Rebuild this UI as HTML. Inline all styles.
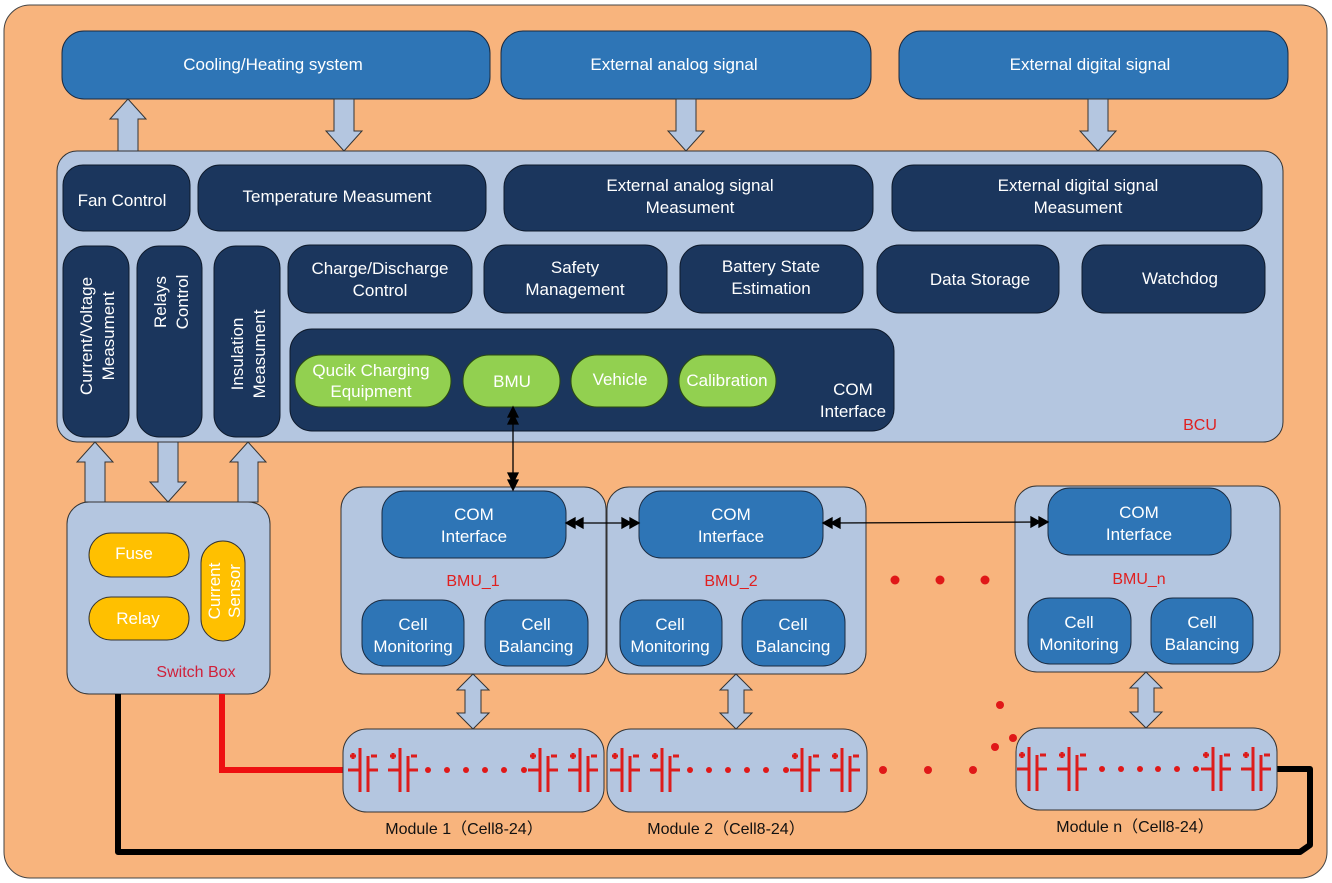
<!DOCTYPE html>
<html><head><meta charset="utf-8"><style>
html,body{margin:0;padding:0;background:#fff;}
svg{display:block;font-family:"Liberation Sans",Arial,sans-serif;}
.t{fill:#fff;font-size:17px;text-anchor:middle;}
.bl{fill:#2e75b6;stroke:#1a2a40;stroke-width:1;}
.nv{fill:#1b365d;stroke:#0e1a2c;stroke-width:1;}
.lb{fill:#b4c6e0;stroke:#333;stroke-width:1;}
.gr{fill:#92d050;stroke:#2a4a10;stroke-width:1;}
.yl{fill:#ffc000;stroke:#333;stroke-width:1;}
.ar{fill:#b4c6e0;stroke:#333;stroke-width:1;}
.rd{fill:#e02020;font-size:16px;text-anchor:middle;}
.bk{fill:#111;font-size:16px;text-anchor:middle;}
</style></head><body>
<svg width="1332" height="883" viewBox="0 0 1332 883">
<defs>
<g id="cell" stroke="#dd1c1c" stroke-width="3" fill="none">
<line x1="-12" y1="0" x2="0" y2="0"/>
<line x1="0" y1="-22" x2="0" y2="22"/>
<line x1="8" y1="-14" x2="8" y2="22"/>
<line x1="8" y1="0" x2="18" y2="0"/>
<line x1="-10" y1="-14" x2="-4" y2="-14"/><line x1="-7" y1="-17" x2="-7" y2="-11"/>
<line x1="11" y1="-14" x2="17" y2="-14"/>
</g>
</defs>
<rect x="4" y="5" width="1323" height="873" rx="26" fill="#f8b47d" stroke="#444" stroke-width="1"/>

<rect class="bl" x="62" y="31" width="428" height="68" rx="22"/>
<text class="t" x="273" y="70">Cooling/Heating system</text>
<rect class="bl" x="501" y="31" width="370" height="68" rx="22"/>
<text class="t" x="674" y="70">External analog signal</text>
<rect class="bl" x="899" y="31" width="389" height="68" rx="22"/>
<text class="t" x="1090" y="70">External digital signal</text>

<polygon class="ar" points="118,151 118,119 110,119 128,99 146,119 138,119 138,151"/>
<polygon class="ar" points="334,99 354,99 354,131 362,131 344,151 326,131 334,131"/>
<polygon class="ar" points="676,99 696,99 696,131 704,131 686,151 668,131 676,131"/>
<polygon class="ar" points="1088,99 1108,99 1108,131 1116,131 1098,151 1080,131 1088,131"/>

<rect class="lb" x="57" y="151" width="1226" height="291" rx="20"/>
<rect class="nv" x="63" y="165" width="127" height="66" rx="20"/>
<text class="t" x="122" y="206">Fan Control</text>
<rect class="nv" x="198" y="165" width="288" height="66" rx="22"/>
<text class="t" x="337" y="202">Temperature Measument</text>
<rect class="nv" x="504" y="165" width="369" height="66" rx="22"/>
<text class="t" x="690" y="191">External analog signal</text>
<text class="t" x="690" y="213">Measument</text>
<rect class="nv" x="892" y="165" width="370" height="66" rx="22"/>
<text class="t" x="1078" y="191">External digital signal</text>
<text class="t" x="1078" y="213">Measument</text>

<rect class="nv" x="288" y="245" width="184" height="68" rx="22"/>
<text class="t" x="380" y="274">Charge/Discharge</text>
<text class="t" x="380" y="296">Control</text>
<rect class="nv" x="484" y="245" width="183" height="68" rx="22"/>
<text class="t" x="575" y="273">Safety</text>
<text class="t" x="575" y="295">Management</text>
<rect class="nv" x="680" y="245" width="183" height="68" rx="22"/>
<text class="t" x="771" y="272">Battery State</text>
<text class="t" x="771" y="294">Estimation</text>
<rect class="nv" x="877" y="245" width="182" height="68" rx="22"/>
<text class="t" x="980" y="285">Data Storage</text>
<rect class="nv" x="1082" y="245" width="183" height="68" rx="22"/>
<text class="t" x="1180" y="284">Watchdog</text>

<rect class="nv" x="63" y="246" width="66" height="191" rx="22"/>
<text class="t" transform="translate(92,336) rotate(-90)">Current/Voltage</text>
<text class="t" transform="translate(114,336) rotate(-90)">Measument</text>
<rect class="nv" x="137" y="246" width="65" height="191" rx="22"/>
<text class="t" transform="translate(166,302) rotate(-90)">Relays</text>
<text class="t" transform="translate(188,302) rotate(-90)">Control</text>
<rect class="nv" x="214" y="246" width="66" height="191" rx="22"/>
<text class="t" transform="translate(243,354) rotate(-90)">Insulation</text>
<text class="t" transform="translate(265,354) rotate(-90)">Measument</text>

<rect class="nv" x="290" y="329" width="604" height="102" rx="22"/>
<rect class="gr" x="295" y="355" width="156" height="52" rx="26"/>
<text class="t" x="371" y="376">Qucik Charging</text>
<text class="t" x="371" y="397">Equipment</text>
<rect class="gr" x="463" y="355" width="97" height="52" rx="26"/>
<text class="t" x="512" y="387">BMU</text>
<rect class="gr" x="571" y="355" width="97" height="52" rx="26"/>
<text class="t" x="620" y="385">Vehicle</text>
<rect class="gr" x="679" y="355" width="97" height="52" rx="26"/>
<text class="t" x="727" y="386">Calibration</text>
<text class="t" x="853" y="395">COM</text>
<text class="t" x="853" y="417">Interface</text>
<text class="rd" x="1200" y="430">BCU</text>

<polygon class="ar" points="85,502 85,462 77,462 95,442 113,462 105,462 105,502"/>
<polygon class="ar" points="158,442 178,442 178,482 186,482 168,502 150,482 158,482"/>
<polygon class="ar" points="238,502 238,462 230,462 248,442 266,462 258,462 258,502"/>

<rect class="lb" x="67" y="502" width="203" height="192" rx="22"/>
<rect class="yl" x="89" y="533" width="100" height="44" rx="22"/>
<text class="t" x="134" y="559">Fuse</text>
<rect class="yl" x="89" y="597" width="100" height="43" rx="22"/>
<text class="t" x="138" y="624">Relay</text>
<rect class="yl" x="201" y="541" width="44" height="100" rx="22"/>
<text class="t" transform="translate(220,591) rotate(-90)">Current</text>
<text class="t" transform="translate(240,591) rotate(-90)">Sensor</text>
<text class="rd" x="196" y="677" style="fill:#d0203a">Switch Box</text>

<polyline points="222,694 222,770 343,770" fill="none" stroke="#ee1010" stroke-width="6"/>
<polyline points="118,694 118,852 1300,852 1310,845 1310,769 1277,769" fill="none" stroke="#000" stroke-width="6" stroke-linejoin="round"/>

<rect class="lb" x="341" y="487" width="265" height="187" rx="22"/>
<rect class="bl" x="382" y="491" width="184" height="67" rx="22"/>
<text class="t" x="474" y="520">COM</text><text class="t" x="474" y="542">Interface</text>
<text class="rd" x="473" y="586">BMU_1</text>
<rect class="bl" x="362" y="600" width="102" height="66" rx="22"/>
<text class="t" x="413" y="630">Cell</text><text class="t" x="413" y="652">Monitoring</text>
<rect class="bl" x="485" y="600" width="103" height="66" rx="22"/>
<text class="t" x="536" y="630">Cell</text><text class="t" x="536" y="652">Balancing</text>

<rect class="lb" x="607" y="487" width="259" height="187" rx="22"/>
<rect class="bl" x="639" y="491" width="184" height="67" rx="22"/>
<text class="t" x="731" y="520">COM</text><text class="t" x="731" y="542">Interface</text>
<text class="rd" x="731" y="586">BMU_2</text>
<rect class="bl" x="620" y="600" width="102" height="66" rx="22"/>
<text class="t" x="670" y="630">Cell</text><text class="t" x="670" y="652">Monitoring</text>
<rect class="bl" x="742" y="600" width="103" height="66" rx="22"/>
<text class="t" x="793" y="630">Cell</text><text class="t" x="793" y="652">Balancing</text>

<rect class="lb" x="1015" y="486" width="265" height="186" rx="22"/>
<rect class="bl" x="1048" y="488" width="183" height="67" rx="22"/>
<text class="t" x="1139" y="518">COM</text><text class="t" x="1139" y="540">Interface</text>
<text class="rd" x="1139" y="584">BMU_n</text>
<rect class="bl" x="1028" y="598" width="103" height="66" rx="22"/>
<text class="t" x="1079" y="628">Cell</text><text class="t" x="1079" y="650">Monitoring</text>
<rect class="bl" x="1151" y="598" width="102" height="66" rx="22"/>
<text class="t" x="1202" y="628">Cell</text><text class="t" x="1202" y="650">Balancing</text>

<g stroke="#000" stroke-width="1.3" fill="#000">
<line x1="513" y1="412" x2="513" y2="486"/>
<polygon points="513,407 508,417 518,417"/><polygon points="513,414 508,424 518,424"/>
<polygon points="513,490 508,480 518,480"/><polygon points="513,483 508,473 518,473"/>
<line x1="575" y1="523" x2="630" y2="523"/>
<polygon points="566,523 575,518 575,528"/><polygon points="574,523 583,518 583,528"/>
<polygon points="639,523 630,518 630,528"/><polygon points="631,523 622,518 622,528"/>
<line x1="832" y1="523" x2="1040" y2="522"/>
<polygon points="823,523 832,518 832,528"/><polygon points="831,523 840,518 840,528"/>
<polygon points="1048,522 1039,517 1039,527"/><polygon points="1040,522 1031,517 1031,527"/>
</g>

<polygon class="ar" points="473,674 489,690 481,690 481,713 489,713 473,729 457,713 465,713 465,690 457,690"/>
<polygon class="ar" points="736,674 752,690 744,690 744,713 752,713 736,729 720,713 728,713 728,690 720,690"/>
<polygon class="ar" points="1146,672 1162,688 1154,688 1154,712 1162,712 1146,728 1130,712 1138,712 1138,688 1130,688"/>

<rect class="lb" x="343" y="729" width="261" height="83" rx="24"/>
<rect class="lb" x="607" y="729" width="260" height="83" rx="24"/>
<rect class="lb" x="1016" y="728" width="261" height="82" rx="24"/>

<g>
<use href="#cell" x="360" y="770"/><use href="#cell" x="400" y="770"/>
<use href="#cell" x="540" y="770"/><use href="#cell" x="580" y="770"/>
<use href="#cell" x="622" y="770"/><use href="#cell" x="662" y="770"/>
<use href="#cell" x="802" y="770"/><use href="#cell" x="842" y="770"/>
<use href="#cell" x="1029" y="769"/><use href="#cell" x="1069" y="769"/>
<use href="#cell" x="1213" y="769"/><use href="#cell" x="1253" y="769"/>
</g>
<g fill="#e01818">
<circle cx="428" cy="770" r="3"/><circle cx="447" cy="770" r="3"/><circle cx="466" cy="770" r="3"/><circle cx="485" cy="770" r="3"/><circle cx="504" cy="770" r="3"/><circle cx="524" cy="770" r="3"/>
<circle cx="690" cy="770" r="3"/><circle cx="709" cy="770" r="3"/><circle cx="728" cy="770" r="3"/><circle cx="747" cy="770" r="3"/><circle cx="766" cy="770" r="3"/><circle cx="786" cy="770" r="3"/>
<circle cx="1102" cy="769" r="3"/><circle cx="1121" cy="769" r="3"/><circle cx="1140" cy="769" r="3"/><circle cx="1158" cy="769" r="3"/><circle cx="1177" cy="769" r="3"/><circle cx="1196" cy="769" r="3"/>
<circle cx="883" cy="770" r="4"/><circle cx="928" cy="770" r="4"/><circle cx="973" cy="770" r="4"/>
<circle cx="995" cy="747" r="4"/><circle cx="1013" cy="738" r="4"/><circle cx="1000" cy="705" r="4"/>
<circle cx="895" cy="580" r="4.5"/><circle cx="940" cy="580" r="4.5"/><circle cx="985" cy="580" r="4.5"/>
</g>
<text class="bk" x="464" y="834">Module 1（Cell8-24）</text>
<text class="bk" x="726" y="834">Module 2（Cell8-24）</text>
<text class="bk" x="1135" y="832">Module n（Cell8-24）</text>
</svg>
</body></html>
